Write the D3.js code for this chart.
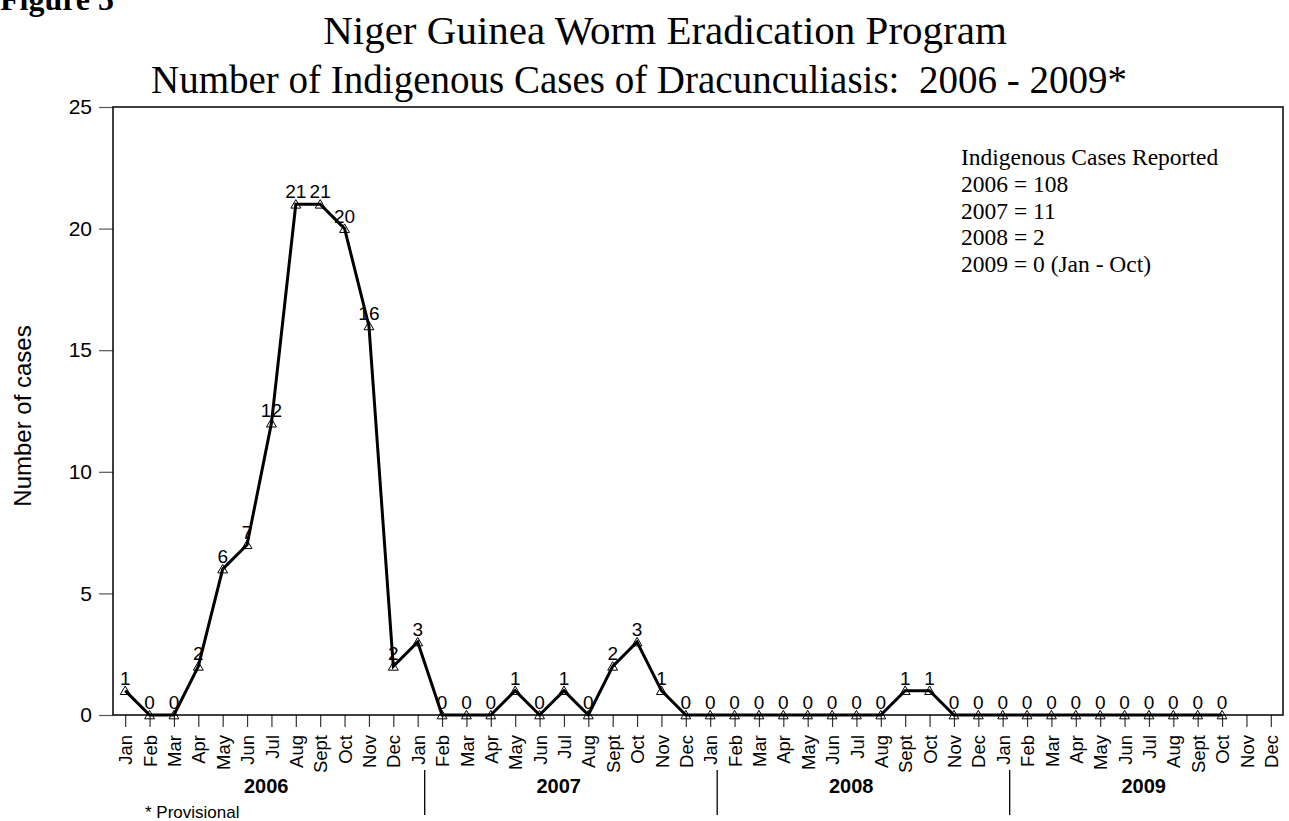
<!DOCTYPE html>
<html>
<head>
<meta charset="utf-8">
<script src="https://cdn.jsdelivr.net/npm/d3@7"></script>
<style>
  html, body { margin: 0; padding: 0; background: #fff; }
  svg { display: block; }
  text { white-space: pre; }
</style>
</head>
<body>
<svg id="chart" width="1289" height="821"></svg>
<script>
// ---------- data ----------
const monthLabels = ["Jan","Feb","Mar","Apr","May","Jun","Jul","Aug","Sept","Oct","Nov","Dec"];
const years = ["2006","2007","2008","2009"];
const cases = [
  1,0,0,2,6,7,12,21,21,20,16,2,      // 2006
  3,0,0,0,1,0,1,0,2,3,1,0,           // 2007
  0,0,0,0,0,0,0,0,1,1,0,0,           // 2008
  0,0,0,0,0,0,0,0,0,0                // 2009 (Jan - Oct)
];
const yTicks = [0,5,10,15,20,25];
const titleLines = ["Niger Guinea Worm Eradication Program",
                    "Number of Indigenous Cases of Dracunculiasis:  2006 - 2009*"];
const legendLines = ["Indigenous Cases Reported","2006 = 108","2007 = 11","2008 = 2","2009 = 0 (Jan - Oct)"];

// ---------- layout ----------
const svg = d3.select("#chart");
const L = 113, R = 1283, T = 107, B = 715;
const periods = [];
years.forEach(y => monthLabels.forEach(m => periods.push(y + "-" + m)));

const x = d3.scalePoint().domain(periods).range([L, R]).padding(0.5);
const y = d3.scaleLinear().domain([0, 25]).range([B, T]);

const serif = "Liberation Serif, Times New Roman, serif";
const sans = "Liberation Sans, Arial, sans-serif";

// Figure label
svg.append("text").attr("x", 0).attr("y", 10)
  .attr("font-family", serif).attr("font-weight", "bold").attr("font-size", 32).text("Figure 5");

// Titles
svg.append("text").attr("x", 665).attr("y", 44).attr("text-anchor", "middle")
  .attr("font-family", serif).attr("font-size", 41).text(titleLines[0]);
svg.append("text").attr("x", 639).attr("y", 93).attr("text-anchor", "middle")
  .attr("font-family", serif).attr("font-size", 39).text(titleLines[1]);

// Y axis
const yAxis = d3.axisLeft(y).tickValues(yTicks).tickSize(14).tickPadding(7);
const gy = svg.append("g").attr("transform", `translate(${L},0)`).call(yAxis);
gy.select(".domain").remove();
gy.selectAll(".tick line").attr("stroke", "#555").attr("stroke-width", 1.2);
gy.selectAll(".tick text").attr("font-family", sans).attr("font-size", 21).attr("fill", "#000");

// Y axis title
svg.append("text").attr("transform", "translate(31,416) rotate(-90)").attr("text-anchor", "middle")
  .attr("font-family", sans).attr("font-size", 24).text("Number of cases");

// X axis
const xAxis = d3.axisBottom(x).tickSize(12).tickFormat(d => d.split("-")[1]);
const gx = svg.append("g").attr("transform", `translate(0,${B})`).call(xAxis);
gx.select(".domain").remove();
gx.selectAll(".tick line").attr("stroke", "#333").attr("stroke-width", 1.2);
gx.selectAll(".tick text")
  .attr("font-family", sans).attr("font-size", 18.5).attr("fill", "#000")
  .attr("text-anchor", "end").attr("transform", "rotate(-90)")
  .attr("x", -20).attr("y", 0).attr("dy", "0.36em");

// Frame
svg.append("rect").attr("x", L).attr("y", T).attr("width", R - L).attr("height", B - T)
  .attr("fill", "none").attr("stroke", "#000").attr("stroke-width", 1.5);

// Year labels and dividers
years.forEach((yr, i) => {
  const x0 = x(yr + "-Jan"), x1 = x(yr + "-Dec");
  svg.append("text").attr("x", (x0 + x1) / 2 + 7).attr("y", 793).attr("text-anchor", "middle")
    .attr("font-family", sans).attr("font-weight", "bold").attr("font-size", 20).text(yr);
  if (i > 0) {
    svg.append("line").attr("x1", x0 + 7).attr("x2", x0 + 7).attr("y1", 770).attr("y2", 815)
      .attr("stroke", "#000").attr("stroke-width", 1.3);
  }
});

// Provisional note
svg.append("text").attr("x", 145).attr("y", 818)
  .attr("font-family", sans).attr("font-size", 17).text("* Provisional");

// Line
const pts = cases.map((v, i) => ({p: periods[i], v}));
svg.append("path").datum(pts)
  .attr("fill", "none").attr("stroke", "#000").attr("stroke-width", 3).attr("stroke-linejoin", "miter")
  .attr("d", d3.line().x(d => x(d.p)).y(d => y(d.v)));

// Markers
const tri = d3.symbol().type(d3.symbolTriangle).size(42);
svg.append("g").selectAll("path").data(pts).join("path")
  .attr("transform", d => `translate(${x(d.p)},${y(d.v) + 1})`)
  .attr("d", tri).attr("fill", "none").attr("stroke", "#000").attr("stroke-width", 1);

// Value labels
svg.append("g").selectAll("text").data(pts).join("text")
  .attr("x", d => x(d.p)).attr("y", d => y(d.v) - 6).attr("text-anchor", "middle")
  .attr("font-family", sans).attr("font-size", 19)
  .text(d => d.v);

// Legend text
legendLines.forEach((t, i) => {
  svg.append("text").attr("x", 961).attr("y", 165 + i * 26.8)
    .attr("font-family", serif).attr("font-size", 23.5).text(t);
});
</script>
</body>
</html>
